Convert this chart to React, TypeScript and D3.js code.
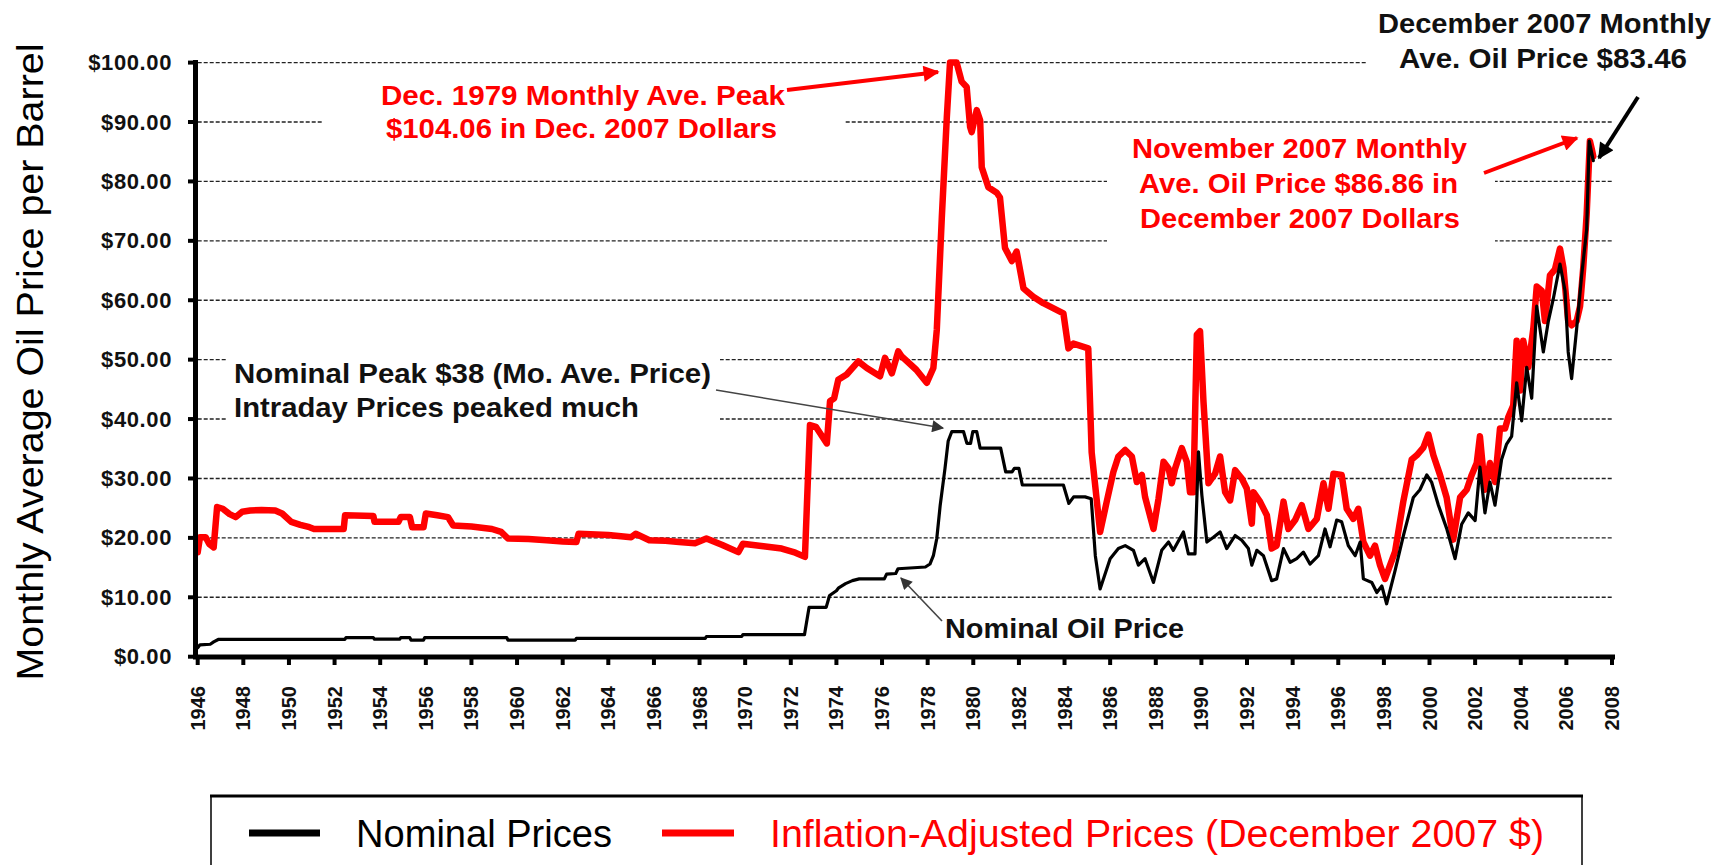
import React from 'react';
import * as d3 from 'd3';

const yTickValues = [0, 10, 20, 30, 40, 50, 60, 70, 80, 90, 100];
const xTickYears = [1946, 1948, 1950, 1952, 1954, 1956, 1958, 1960, 1962, 1964, 1966, 1968, 1970, 1972, 1974, 1976, 1978, 1980, 1982, 1984, 1986, 1988, 1990, 1992, 1994, 1996, 1998, 2000, 2002, 2004, 2006, 2008];

// Nominal monthly average price (year position, $)
const nominalSeries: [number, number][] = [
  [1946.0, 1.5], [1946.1, 2.0], [1946.55, 2.1], [1946.7, 2.5], [1946.9, 2.9], [1952.45, 2.9], [1952.5, 3.2],
  [1953.7, 3.2], [1953.75, 2.95], [1954.85, 2.95], [1954.9, 3.2], [1955.3, 3.2], [1955.35, 2.8], [1955.9, 2.8],
  [1955.95, 3.2], [1959.55, 3.2], [1959.6, 2.8], [1962.55, 2.8], [1962.6, 3.1], [1968.25, 3.1], [1968.3, 3.4],
  [1969.85, 3.4], [1969.9, 3.7], [1972.6, 3.7], [1972.8, 8.3], [1973.55, 8.3], [1973.7, 10.3], [1974.0, 11.1],
  [1974.1, 11.6], [1974.4, 12.3], [1974.7, 12.8], [1975.0, 13.1], [1976.1, 13.1], [1976.2, 13.9], [1976.6, 14.0],
  [1976.7, 14.8], [1977.9, 15.1], [1978.1, 15.6], [1978.25, 17.0], [1978.4, 19.9], [1978.55, 25.5], [1978.76, 31.7],
  [1978.9, 36.3], [1979.06, 37.9], [1979.57, 37.9], [1979.72, 35.9], [1979.88, 35.9], [1979.98, 37.9], [1980.15, 37.9],
  [1980.3, 35.1], [1981.2, 35.1], [1981.42, 31.1], [1981.7, 31.1], [1981.8, 31.7], [1982.0, 31.7], [1982.15, 28.9],
  [1983.95, 28.9], [1984.19, 25.8], [1984.4, 26.9], [1984.9, 26.9], [1985.17, 26.6], [1985.35, 17.0], [1985.56, 11.4],
  [1986.0, 16.5], [1986.36, 18.2], [1986.66, 18.7], [1987.02, 17.9], [1987.24, 15.4], [1987.53, 16.5], [1987.9, 12.5],
  [1988.26, 17.9], [1988.56, 19.3], [1988.77, 17.9], [1989.21, 21.0], [1989.43, 17.3], [1989.72, 17.3], [1989.87, 34.5],
  [1990.02, 27.2], [1990.24, 19.3], [1990.53, 20.1], [1990.82, 21.0], [1991.11, 18.2], [1991.48, 20.4], [1991.77, 19.6],
  [1992.06, 18.2], [1992.21, 15.4], [1992.43, 17.9], [1992.72, 17.0], [1993.08, 12.8], [1993.3, 13.1], [1993.6, 18.2],
  [1993.89, 15.9], [1994.18, 16.5], [1994.47, 17.6], [1994.76, 15.6], [1995.13, 17.0], [1995.42, 21.5], [1995.64, 18.5],
  [1995.93, 23.0], [1996.15, 22.7], [1996.44, 18.7], [1996.74, 17.0], [1996.96, 19.3], [1997.1, 13.1], [1997.47, 12.5],
  [1997.69, 10.8], [1997.91, 11.9], [1998.12, 8.9], [1998.49, 14.5], [1998.85, 20.3], [1999.29, 26.8], [1999.58, 28.1],
  [1999.88, 30.6], [2000.09, 29.4], [2000.39, 25.5], [2000.75, 21.6], [2001.12, 16.5], [2001.41, 22.3], [2001.7, 24.2],
  [2002.0, 22.9], [2002.21, 31.9], [2002.43, 24.2], [2002.65, 29.4], [2002.87, 25.5], [2003.16, 33.2], [2003.38, 35.8],
  [2003.6, 37.1], [2003.82, 46.1], [2004.04, 39.7], [2004.26, 48.7], [2004.48, 43.5], [2004.7, 59.0], [2004.99, 51.3],
  [2005.21, 56.5], [2005.43, 60.3], [2005.72, 66.1], [2005.94, 61.6], [2006.08, 51.3], [2006.23, 46.8], [2006.45, 55.2],
  [2006.67, 64.2], [2006.89, 71.9], [2007.0, 86.8], [2007.18, 83.5],
];

// Inflation-adjusted price, December 2007 dollars (year position, $)
const realSeries: [number, number][] = [
  [1946.0, 17.6], [1946.1, 20.1], [1946.35, 20.1], [1946.5, 19.0], [1946.7, 18.4], [1946.85, 25.2], [1947.1, 24.9],
  [1947.4, 24.0], [1947.67, 23.5], [1947.95, 24.4], [1948.3, 24.6], [1948.8, 24.7], [1949.4, 24.6], [1949.7, 24.1],
  [1950.1, 22.7], [1950.5, 22.2], [1950.9, 21.8], [1951.1, 21.5], [1952.4, 21.5], [1952.46, 23.8], [1953.7, 23.7],
  [1953.75, 22.7], [1954.8, 22.7], [1954.9, 23.5], [1955.3, 23.5], [1955.4, 21.8], [1955.9, 21.8], [1956.0, 24.1],
  [1956.5, 23.8], [1956.97, 23.5], [1957.2, 22.1], [1958.0, 21.9], [1958.9, 21.5], [1959.3, 21.0], [1959.6, 19.9],
  [1960.5, 19.8], [1961.3, 19.6], [1962.0, 19.4], [1962.6, 19.3], [1962.7, 20.7], [1964.0, 20.5], [1965.0, 20.1],
  [1965.2, 20.7], [1965.8, 19.6], [1966.5, 19.5], [1967.1, 19.3], [1967.8, 19.1], [1968.3, 19.9], [1969.0, 18.8],
  [1969.7, 17.6], [1969.9, 19.0], [1970.8, 18.6], [1971.6, 18.2], [1972.2, 17.5], [1972.62, 16.8], [1972.84, 39.0],
  [1973.1, 38.7], [1973.58, 35.9], [1973.72, 43.0], [1973.9, 43.5], [1974.08, 46.6], [1974.45, 47.5], [1974.96, 49.7],
  [1975.33, 48.6], [1975.91, 47.2], [1976.13, 50.3], [1976.43, 47.7], [1976.71, 51.4], [1976.85, 50.6], [1977.5, 48.3],
  [1977.96, 46.1], [1978.25, 48.6], [1978.4, 55.0], [1978.62, 73.9], [1978.84, 90.8], [1978.98, 100.0], [1979.27, 100.0],
  [1979.49, 96.8], [1979.71, 95.9], [1979.86, 89.2], [1979.93, 88.3], [1980.15, 92.0], [1980.3, 90.3], [1980.37, 82.4],
  [1980.66, 79.0], [1981.03, 78.1], [1981.17, 77.3], [1981.39, 68.8], [1981.69, 66.6], [1981.9, 68.2], [1982.2, 62.0],
  [1982.63, 60.6], [1983.07, 59.5], [1983.95, 57.8], [1984.17, 51.9], [1984.39, 52.7], [1985.04, 51.9], [1985.19, 34.4],
  [1985.56, 21.0], [1985.85, 26.1], [1986.14, 31.1], [1986.36, 33.7], [1986.66, 34.8], [1986.95, 33.7], [1987.17, 29.4],
  [1987.39, 30.6], [1987.53, 26.9], [1987.9, 21.5], [1988.12, 26.6], [1988.34, 32.8], [1988.56, 31.7], [1988.7, 29.2],
  [1988.85, 31.7], [1989.14, 35.1], [1989.36, 32.8], [1989.5, 27.7], [1989.65, 27.7], [1989.8, 54.2], [1989.94, 54.8],
  [1990.09, 43.0], [1990.31, 29.2], [1990.6, 30.8], [1990.82, 33.7], [1991.04, 27.7], [1991.26, 26.3], [1991.48, 31.4],
  [1991.77, 30.0], [1991.99, 28.3], [1992.21, 22.4], [1992.28, 27.7], [1992.57, 26.1], [1992.87, 23.8], [1993.08, 18.2],
  [1993.3, 18.7], [1993.6, 26.1], [1993.81, 21.5], [1994.11, 23.0], [1994.4, 25.5], [1994.69, 21.5], [1995.06, 23.2],
  [1995.35, 29.2], [1995.57, 24.9], [1995.79, 30.8], [1996.15, 30.6], [1996.37, 24.9], [1996.66, 23.2], [1996.88, 24.9],
  [1997.1, 19.3], [1997.39, 17.0], [1997.61, 18.7], [1997.83, 15.4], [1998.05, 13.1], [1998.49, 17.7], [1998.85, 26.1],
  [1999.22, 33.2], [1999.44, 33.9], [1999.73, 35.2], [1999.95, 37.4], [2000.17, 33.9], [2000.46, 30.6], [2000.75, 26.8],
  [2001.04, 19.7], [2001.34, 26.8], [2001.63, 28.1], [2001.85, 30.6], [2002.07, 32.6], [2002.21, 37.1], [2002.43, 28.1],
  [2002.65, 32.6], [2002.87, 29.4], [2003.09, 38.4], [2003.31, 38.4], [2003.45, 40.3], [2003.67, 42.3], [2003.82, 53.2],
  [2003.97, 44.8], [2004.11, 53.2], [2004.33, 48.7], [2004.55, 55.2], [2004.7, 62.3], [2004.92, 61.6], [2005.06, 56.5],
  [2005.28, 64.2], [2005.5, 65.2], [2005.72, 68.7], [2005.87, 65.5], [2006.08, 56.5], [2006.23, 55.8], [2006.45, 56.5],
  [2006.6, 59.0], [2006.74, 65.5], [2006.89, 74.5], [2007.03, 86.8], [2007.11, 85.5], [2007.18, 84.2],
];

const FONT = "'Liberation Sans', Arial, Helvetica, sans-serif";
const RED = '#ff0000';

export default function App() {
  const W = 1722;
  const H = 865;
  const x = d3.scaleLinear().domain([1946, 2008]).range([197.7, 1612]);
  const y = d3.scaleLinear().domain([0, 100]).range([656.7, 62.6]);
  const line = d3.line<[number, number]>().x((d) => x(d[0])).y((d) => y(d[1]));

  const annText = (t: string, px: number, py: number, len: number, size: number, color: string, key: string) => (
    <text key={key} x={px} y={py} textLength={len} lengthAdjust="spacingAndGlyphs" fontFamily={FONT}
      fontWeight="bold" fontSize={size} fill={color}>{t}</text>
  );

  return (
    <svg width={W} height={H} viewBox={`0 0 ${W} ${H}`}
      style={{ position: 'absolute', left: 0, top: 0, display: 'block', background: '#fff' }}>
      <defs>
        <marker id="headRed" viewBox="0 0 10 10" refX="9" refY="5" markerUnits="userSpaceOnUse" markerWidth="20" markerHeight="16" orient="auto">
          <path d="M0,0 L10,5 L0,10 z" fill={RED} />
        </marker>
        <marker id="headBlack" viewBox="0 0 10 10" refX="9" refY="5" markerUnits="userSpaceOnUse" markerWidth="20" markerHeight="16" orient="auto">
          <path d="M0,0 L10,5 L0,10 z" fill="#000" />
        </marker>
        <marker id="headGray" viewBox="0 0 10 10" refX="9" refY="5" markerUnits="userSpaceOnUse" markerWidth="16" markerHeight="12" orient="auto">
          <path d="M0,0 L10,5 L0,10 z" fill="#333" />
        </marker>
      </defs>

      <rect x={0} y={0} width={W} height={H} fill="#fff" />

      {/* gridlines */}
      {yTickValues.filter((v) => v > 0).map((v) => (
        <line key={`g${v}`} x1={x(1946)} x2={x(2008)} y1={y(v)} y2={y(v)} stroke="#222" strokeWidth={1.4} strokeDasharray="4,2" />
      ))}

      {/* text-box backgrounds that interrupt gridlines */}
      <rect x={322} y={76} width={523} height={70} fill="#fff" />
      <rect x={226} y={340} width={494} height={86} fill="#fff" />
      <rect x={1366} y={0} width={356} height={86} fill="#fff" />
      <rect x={1107} y={134} width={388} height={150} fill="#fff" />

      {/* y tick labels and ticks */}
      {yTickValues.map((v) => (
        <g key={`yt${v}`}>
          <line x1={188} x2={196} y1={y(v)} y2={y(v)} stroke="#000" strokeWidth={4} />
          <text x={172} y={y(v)} textAnchor="end" dominantBaseline="central" fontFamily={FONT} fontWeight="bold"
            fontSize={22} letterSpacing={0.6} fill="#111">{`$${v.toFixed(2)}`}</text>
        </g>
      ))}

      {/* x tick labels and ticks */}
      {xTickYears.map((yr) => (
        <g key={`xt${yr}`}>
          <line x1={x(yr)} x2={x(yr)} y1={657} y2={665} stroke="#000" strokeWidth={4} />
          <text transform={`translate(${x(yr)},686) rotate(-90)`} textAnchor="end" dominantBaseline="central"
            fontFamily={FONT} fontWeight="bold" fontSize={20} fill="#111">{yr}</text>
        </g>
      ))}

      {/* series */}
      <path d={line(realSeries) || ''} fill="none" stroke={RED} strokeWidth={6.5} strokeLinejoin="round" strokeLinecap="round" />
      <path d={line(nominalSeries) || ''} fill="none" stroke="#000" strokeWidth={3.2} strokeLinejoin="round" strokeLinecap="round" />

      {/* axes */}
      <line x1={195.5} x2={195.5} y1={60} y2={659} stroke="#000" strokeWidth={5} />
      <line x1={193} x2={1615} y1={657} y2={657} stroke="#000" strokeWidth={5} />

      {/* y axis title */}
      <text transform="translate(43,362) rotate(-90)" textAnchor="middle" fontFamily={FONT} fontSize={36}
        textLength={637} lengthAdjust="spacingAndGlyphs" fill="#000">Monthly Average Oil Price per Barrel</text>

      {/* annotations */}
      {annText('Dec. 1979 Monthly Ave. Peak', 381, 105, 404, 28, RED, 'a1')}
      {annText('$104.06 in Dec. 2007 Dollars', 386, 138, 391, 28, RED, 'a2')}
      <line x1={787} y1={90} x2={938} y2={72} stroke={RED} strokeWidth={4} markerEnd="url(#headRed)" />

      {annText('Nominal Peak $38 (Mo. Ave. Price)', 234, 383, 477, 27, '#111', 'a3')}
      {annText('Intraday Prices peaked much', 234, 417, 405, 27, '#111', 'a4')}
      <line x1={716} y1={390} x2={943} y2={428} stroke="#444" strokeWidth={1.6} markerEnd="url(#headGray)" />

      {annText('Nominal Oil Price', 945, 638, 239, 28, '#111', 'a5')}
      <line x1={942} y1={621} x2={901} y2={578} stroke="#444" strokeWidth={1.6} markerEnd="url(#headGray)" />

      {annText('December 2007 Monthly', 1378, 33, 333, 28, '#111', 'a6')}
      {annText('Ave. Oil Price $83.46', 1399, 68, 288, 28, '#111', 'a7')}
      <line x1={1638} y1={97} x2={1599} y2={158} stroke="#000" strokeWidth={4} markerEnd="url(#headBlack)" />

      {annText('November 2007 Monthly', 1132, 158, 335, 28, RED, 'a8')}
      {annText('Ave. Oil Price $86.86 in', 1139, 193, 319, 28, RED, 'a9')}
      {annText('December 2007 Dollars', 1140, 228, 320, 28, RED, 'a10')}
      <line x1={1484} y1={173} x2={1577} y2={138} stroke={RED} strokeWidth={4} markerEnd="url(#headRed)" />

      {/* legend */}
      <rect x={211} y={796} width={1371} height={90} fill="#fff" stroke="#000" strokeWidth={1.5} />
      <line x1={210} x2={1583} y1={796} y2={796} stroke="#000" strokeWidth={3} />
      <line x1={249} x2={320} y1={833} y2={833} stroke="#000" strokeWidth={7} />
      <text x={356} y={847} textLength={256} lengthAdjust="spacingAndGlyphs" fontFamily={FONT} fontSize={38} fill="#000">Nominal Prices</text>
      <line x1={662} x2={734} y1={833} y2={833} stroke={RED} strokeWidth={7} />
      <text x={770} y={847} textLength={774} lengthAdjust="spacingAndGlyphs" fontFamily={FONT} fontSize={38} fill={RED}>Inflation-Adjusted Prices (December 2007 $)</text>
    </svg>
  );
}
